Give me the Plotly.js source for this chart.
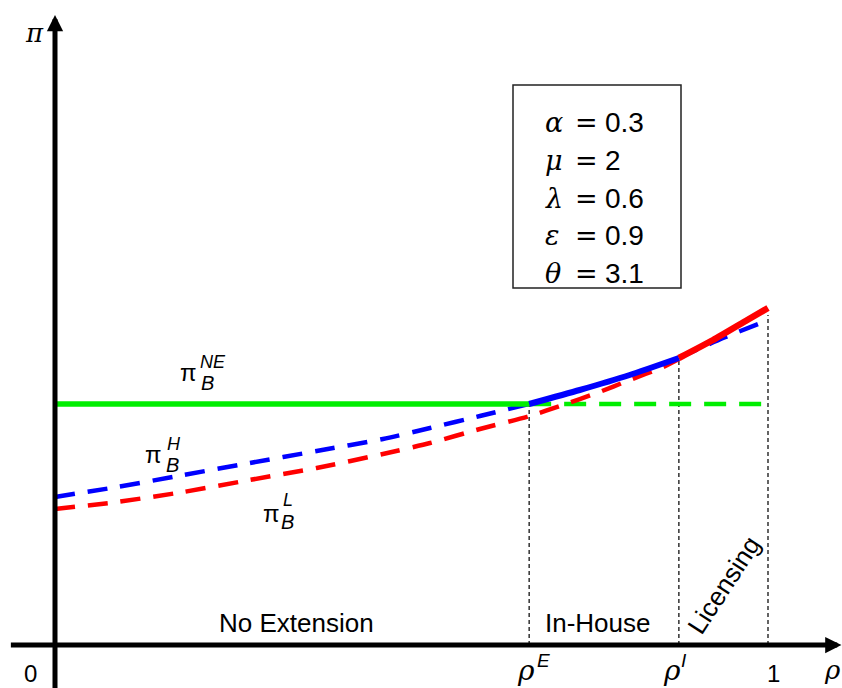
<!DOCTYPE html>
<html>
<head>
<meta charset="utf-8">
<script src="https://cdn.plot.ly/plotly-3.0.1.min.js"></script>
<style>html,body{margin:0;padding:0;background:#fff;}#chart{width:842px;height:688px;}</style>
</head>
<body>
<div id="chart"></div>
<script>
// ---- data ----
const rhoE = 0.665;
const rhoI = 0.875;
const piNE = 2.41;

const greenSolidX = [0, rhoE];
const greenSolidY = [piNE, piNE];
const greenDashX = [rhoE, 1];
const greenDashY = [piNE, piNE];

const blueDash1X = [0, 0.087, 0.180, 0.273, 0.367, 0.460, 0.526, 0.596, 0.665];
const blueDash1Y = [1.48, 1.58, 1.70, 1.82, 1.94, 2.06, 2.17, 2.29, 2.41];
const blueSolidX = [0.665, 0.736, 0.806, 0.875];
const blueSolidY = [2.41, 2.55, 2.70, 2.87];
const blueDash2X = [0.875, 0.937, 0.986, 1.0];
const blueDash2Y = [2.87, 3.07, 3.21, 3.25];

const redDash1X = [0, 0.087, 0.180, 0.273, 0.367, 0.460, 0.526, 0.596, 0.666, 0.712, 0.760, 0.806, 0.853, 0.875];
const redDash1Y = [1.36, 1.43, 1.53, 1.65, 1.77, 1.91, 2.02, 2.16, 2.29, 2.40, 2.52, 2.65, 2.78, 2.86];
const redSolidX = [0.875, 0.923, 0.971, 1.0];
const redSolidY = [2.87, 3.05, 3.25, 3.37];

const markX = [rhoE, rhoI, 1];
const markTop = [2.41, 2.87, 3.30];

const paramSymbols = ["α", "μ", "λ", "ε", "θ"];
const paramValues = ["0.3", "2", "0.6", "0.9", "3.1"];
const regions = ["No Extension", "In-House", "Licensing"];

// ---- figure ----
const W = 842, H = 688;
const px = v => v / W;
const py = v => 1 - v / H;
const FONT = "Liberation Sans, Arial, sans-serif";
const SERIF = "DejaVu Serif, Liberation Serif, serif";

const traces = [];
function line(x, y, color, width, dash, shape) {
  traces.push({x: x, y: y, type: 'scatter', mode: 'lines', hoverinfo: 'skip',
    line: {color: color, width: width, dash: dash || 'solid', shape: shape || 'spline', smoothing: 0.6}});
}
// vertical dotted guides
for (let i = 0; i < markX.length; i++) {
  line([markX[i], markX[i]], [0, markTop[i]], '#111', 1.3, '4px,3px', 'linear');
}
line(greenDashX, greenDashY, '#00ee00', 4.5, '22px,13px', 'linear');
line(redDash1X, redDash1Y, '#ff0000', 4.5, '20px,13px');
line(blueDash1X, blueDash1Y, '#0000ff', 4.5, '20px,13px');
line(blueDash2X, blueDash2Y, '#0000ff', 4.5, '20px,13px');
line(greenSolidX, greenSolidY, '#00ee00', 5.5, 'solid', 'linear');
line(blueSolidX, blueSolidY, '#0000ff', 6, 'solid');
line(redSolidX, redSolidY, '#ff0000', 6.5, 'solid');

const ann = [];
function txt(x, y, t, size, opts, fam) {
  ann.push(Object.assign({xref: 'paper', yref: 'paper', x: px(x), y: py(y), text: t,
    showarrow: false, xanchor: 'center', yanchor: 'middle',
    font: {family: fam || FONT, size: size, color: '#000'}}, opts || {}));
}
// axes arrows
ann.push({xref: 'x', yref: 'y', axref: 'x', ayref: 'y', x: 1.103, y: 0, ax: -0.064, ay: 0,
  text: '', showarrow: true, arrowhead: 2, arrowsize: 0.65, arrowwidth: 5, arrowcolor: '#000', standoff: 0});
ann.push({xref: 'x', yref: 'y', axref: 'x', ayref: 'y', x: 0, y: 6.30, ax: 0, ay: -0.5,
  text: '', showarrow: true, arrowhead: 2, arrowsize: 0.65, arrowwidth: 5, arrowcolor: '#000', standoff: 0});

// axis labels
txt(34, 33, '<i>π</i>', 26, null, SERIF);
txt(832, 670, '<i>ρ</i>', 26, null, SERIF);
txt(31, 673, '0', 24);
txt(773, 673, '1', 24);
txt(526, 670, '<i>ρ</i>', 28, null, SERIF);
txt(543, 660, '<i>E</i>', 19);
txt(672, 670, '<i>ρ</i>', 28, null, SERIF);
txt(684, 660, '<i>I</i>', 19);

// curve labels (pi with stacked sub/superscripts)
function piLabel(pX, pY, bX, bY, sX, sY, sup) {
  txt(pX, pY, 'π', 24);
  txt(bX, bY, '<i>B</i>', 20);
  txt(sX, sY, '<i>' + sup + '</i>', 18);
}
piLabel(188, 372, 207, 383, 213, 362, 'NE');
piLabel(153, 455, 172, 465, 174, 444, 'H');
piLabel(271, 513, 287, 522, 288, 500, 'L');

// region labels
txt(296, 623, regions[0], 26);
txt(598, 623, regions[1], 26);
txt(724, 585, regions[2], 26, {textangle: -57});

// parameter box text
for (let i = 0; i < paramSymbols.length; i++) {
  const y = 123 + i * 37.6;
  txt(543, y, '<i>' + paramSymbols[i] + '</i>', 27, {xanchor: 'left'}, SERIF);
  txt(573, y, '=', 27, {xanchor: 'left'}, SERIF);
  txt(603, y, paramValues[i], 28, {xanchor: 'left'});
}

const layout = {
  width: W, height: H,
  margin: {l: 0, r: 0, t: 0, b: 0},
  paper_bgcolor: '#fff', plot_bgcolor: '#fff',
  showlegend: false,
  xaxis: {range: [-55 / 713, 787 / 713], visible: false, fixedrange: true},
  yaxis: {range: [-0.43, 6.45], visible: false, fixedrange: true},
  shapes: [{type: 'rect', xref: 'paper', yref: 'paper', x0: px(513), x1: px(681), y0: py(85), y1: py(288),
    line: {color: '#222', width: 1.5}, fillcolor: 'rgba(0,0,0,0)'}],
  annotations: ann
};
Plotly.newPlot('chart', traces, layout, {staticPlot: true});
</script>
</body>
</html>
